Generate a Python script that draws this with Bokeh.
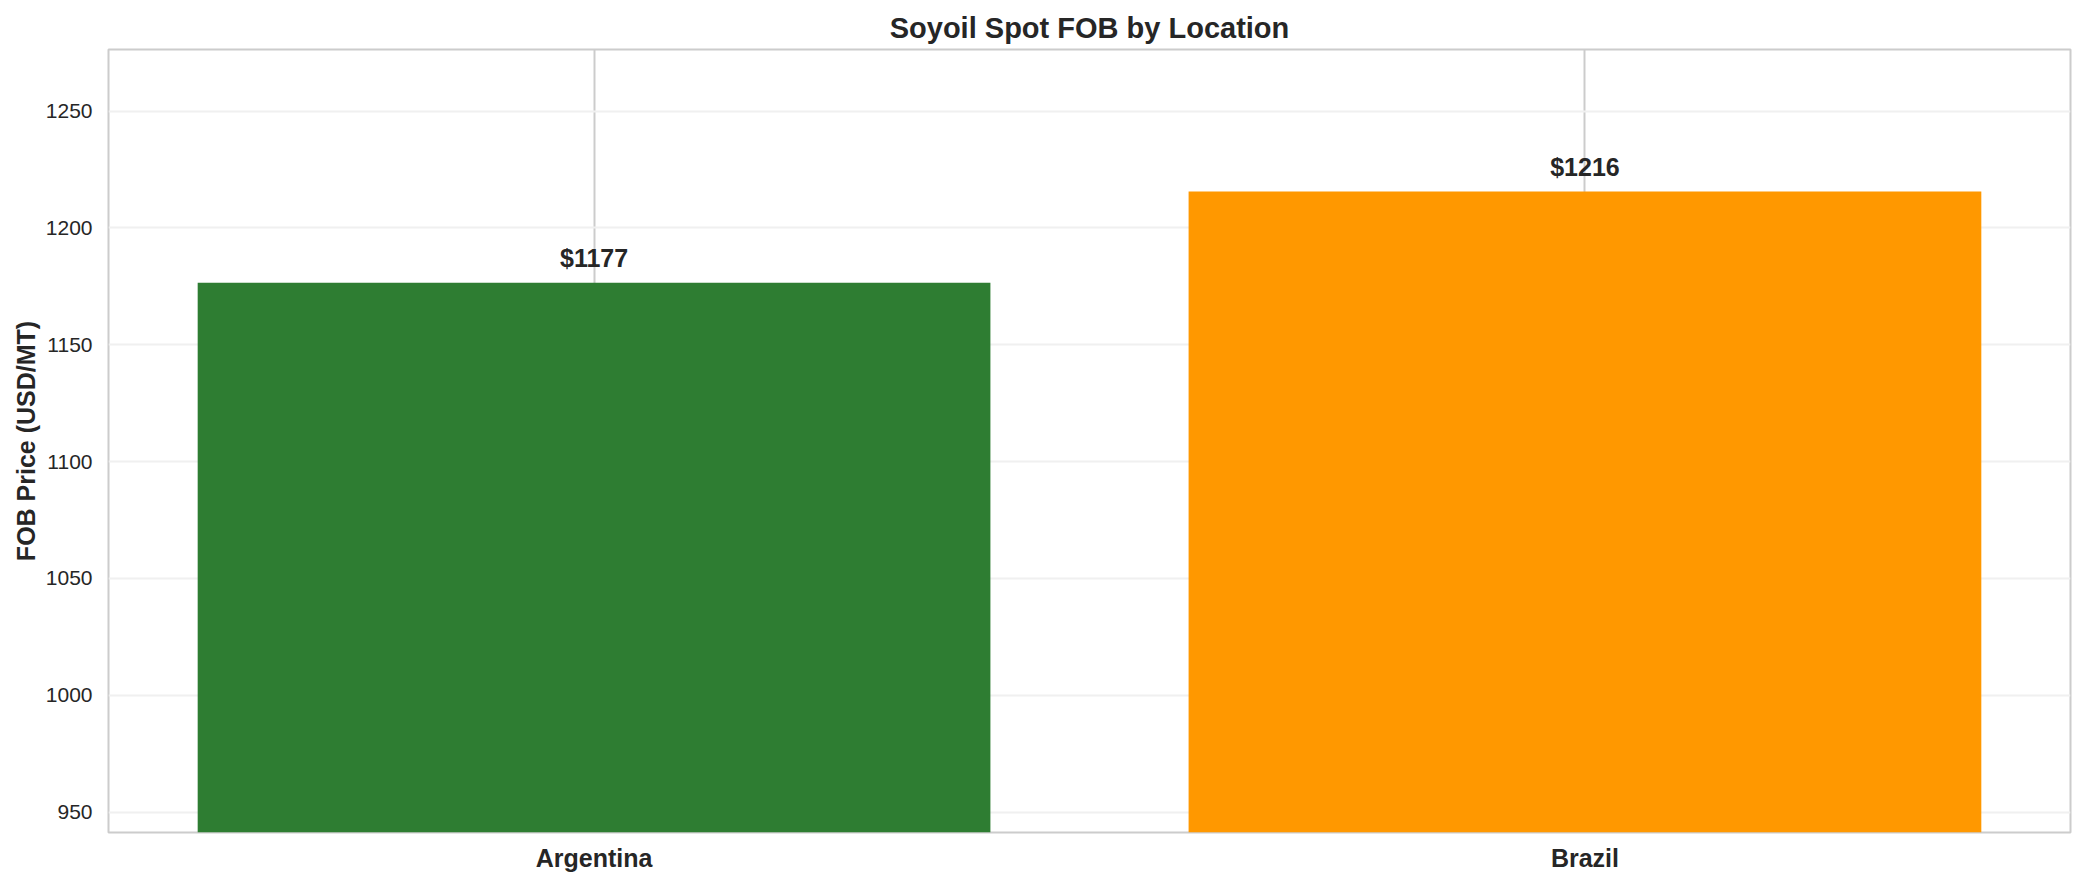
from bokeh.plotting import figure
from bokeh.models import Range1d, FixedTicker
from bokeh.embed import file_html
from bokeh.resources import INLINE
from bokeh.core.properties import value

# ---- data ----
locations = ["Argentina", "Brazil"]
prices = [1176.6, 1215.6]
bar_colors = ["#2e7d32", "#ff9800"]
y_ticks = [950, 1000, 1050, 1100, 1150, 1200, 1250]

FONT = "Liberation Sans"
TXT = "#262626"

xs = list(range(len(locations)))
labels = [f"${v:.0f}" for v in prices]

p = figure(width=2085, height=886, output_backend="svg", toolbar_location=None,
           x_range=Range1d(-0.49, len(locations) - 1 + 0.49),
           y_range=Range1d(min(prices) * 0.8, max(prices) * 1.05),
           min_border_left=108, min_border_right=15, min_border_top=49, min_border_bottom=54,
           title="Soyoil Spot FOB by Location")

p.background_fill_color = "white"
p.border_fill_color = "white"
p.outline_line_color = "#cccccc"
p.outline_line_width = 2

p.title.align = "center"
p.title.text_font = FONT
p.title.text_font_size = "29px"
p.title.text_font_style = "bold"
p.title.text_color = TXT
p.title.standoff = 11

# grids
p.xgrid.ticker = FixedTicker(ticks=xs)
p.xgrid.grid_line_color = "#cccccc"
p.xgrid.grid_line_width = 2
p.ygrid.ticker = FixedTicker(ticks=y_ticks)
p.ygrid.grid_line_color = "#f0f0f0"
p.ygrid.grid_line_width = 2

# axes
p.xaxis.ticker = FixedTicker(ticks=xs)
p.xaxis.major_label_overrides = {i: n for i, n in enumerate(locations)}
p.yaxis.ticker = FixedTicker(ticks=y_ticks)
for ax in (p.xaxis[0], p.yaxis[0]):
    ax.axis_line_color = None
    ax.major_tick_line_color = None
    ax.minor_tick_line_color = None
    ax.major_tick_out = 0
    ax.major_tick_in = 0
    ax.minor_tick_out = 0
    ax.minor_tick_in = 0
    ax.major_label_text_font = FONT
    ax.major_label_text_color = TXT
p.xaxis.major_label_text_font_size = "25px"
p.xaxis.major_label_text_font_style = "bold"
p.xaxis.major_label_standoff = 11
p.yaxis.major_label_text_font_size = "21px"
p.yaxis.major_label_standoff = 16
p.yaxis.axis_label = "FOB Price (USD/MT)"
p.yaxis.axis_label_text_font = FONT
p.yaxis.axis_label_text_font_size = "25px"
p.yaxis.axis_label_text_font_style = "bold"
p.yaxis.axis_label_text_color = TXT
p.yaxis.axis_label_standoff = 3

p.vbar(x=xs, top=prices, bottom=0, width=0.8, fill_color=bar_colors, line_color=None)
p.text(x=xs, y=prices, text=labels, text_align="center", text_baseline="alphabetic",
       y_offset=-25, text_font=value(FONT), text_font_size="25px",
       text_font_style="bold", text_color=TXT)

open("out.html", "w").write(file_html(p, INLINE))
